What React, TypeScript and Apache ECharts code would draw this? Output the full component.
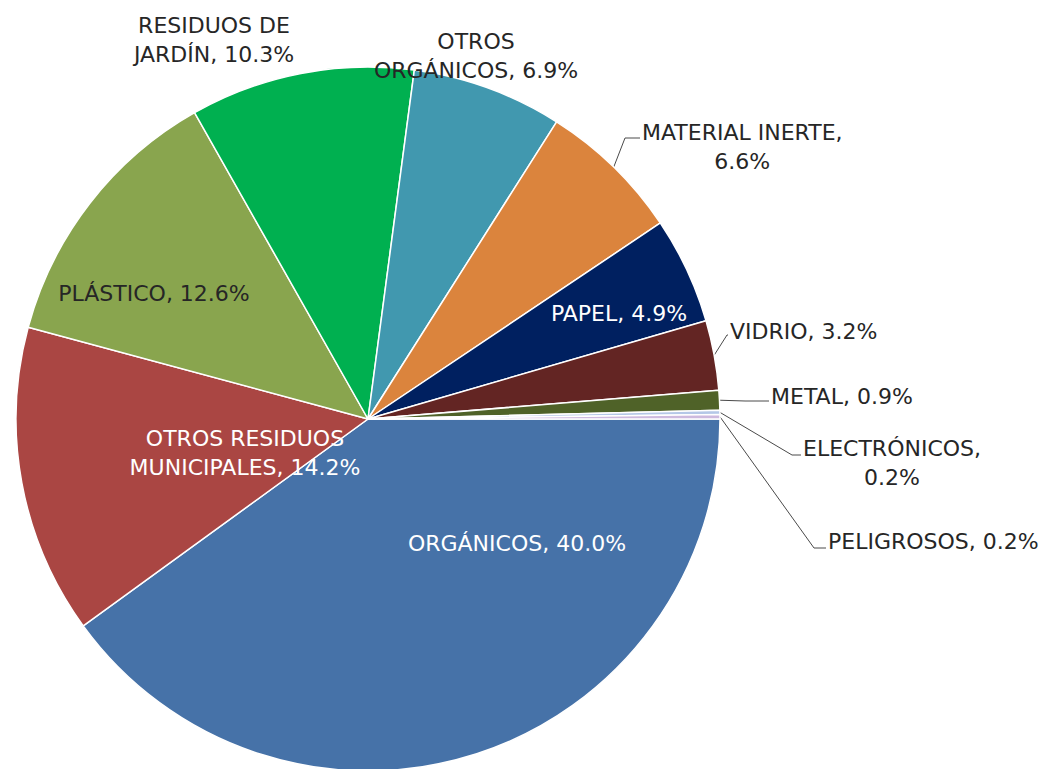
import React, { useEffect, useRef } from "react";
import * as echarts from "echarts";

// ---- data ----
const CATEGORIES = [
  "ORGÁNICOS",
  "OTROS RESIDUOS MUNICIPALES",
  "PLÁSTICO",
  "RESIDUOS DE JARDÍN",
  "OTROS ORGÁNICOS",
  "MATERIAL INERTE",
  "PAPEL",
  "VIDRIO",
  "METAL",
  "ELECTRÓNICOS",
  "PELIGROSOS",
];
const SHARES = [40.0, 14.2, 12.6, 10.3, 6.9, 6.6, 4.9, 3.2, 0.9, 0.2, 0.2];

// ---- styles ----
const COLORS = [
  "#4672A8",
  "#AA4643",
  "#89A54E",
  "#00B050",
  "#4198AF",
  "#DB843D",
  "#002060",
  "#632523",
  "#4F6228",
  "#B4C7E7",
  "#CDB9DE",
];
const WHITE_LABELS = ["ORGÁNICOS", "OTROS RESIDUOS MUNICIPALES", "PAPEL"];
// number of words before the line break in the label text
const WRAP_AFTER: Record<string, number> = {
  "RESIDUOS DE JARDÍN": 2,
  "OTROS ORGÁNICOS": 1,
  "OTROS RESIDUOS MUNICIPALES": 2,
  "MATERIAL INERTE": 2,
  "ELECTRÓNICOS": 1,
};

// ---- label layout (placement only) ----
const CENTERED_LABELS: Record<string, [number, number]> = {
  "ORGÁNICOS": [517, 543],
  "OTROS RESIDUOS MUNICIPALES": [245, 453],
  "PLÁSTICO": [154, 293],
  "PAPEL": [619, 313],
  "RESIDUOS DE JARDÍN": [214, 40],
  "OTROS ORGÁNICOS": [476, 56],
};
const LEADER_LABELS: Record<
  string,
  { left: number; midY: number; lineY: number; elbowX: number }
> = {
  "MATERIAL INERTE": { left: 642, midY: 147, lineY: 138, elbowX: 625 },
  "VIDRIO": { left: 730, midY: 331, lineY: 335, elbowX: 727 },
  "METAL": { left: 771, midY: 396, lineY: 401, elbowX: 745 },
  "ELECTRÓNICOS": { left: 803, midY: 463, lineY: 455, elbowX: 792 },
  "PELIGROSOS": { left: 828, midY: 541, lineY: 548, elbowX: 814 },
};

const FONT = "'DejaVu Sans', sans-serif";

function labelText(name: string, value: number): string {
  const full = `${name}, ${value.toFixed(1)}%`;
  const words = full.split(" ");
  const k = WRAP_AFTER[name];
  const style = WHITE_LABELS.includes(name) ? "w" : "d";
  const lines =
    k != null
      ? [words.slice(0, k).join(" "), words.slice(k).join(" ")]
      : [full];
  return lines.map((l) => `{${style}|${l}}`).join("\n");
}

export default function App() {
  const ref = useRef<HTMLDivElement>(null);

  useEffect(() => {
    if (!ref.current) return;
    const chart = echarts.init(ref.current, undefined, { renderer: "svg" });
    const richBase = {
      fontFamily: FONT,
      fontSize: 22,
      lineHeight: 29,
      align: "center" as const,
    };
    chart.setOption({
      animation: false,
      backgroundColor: "#ffffff",
      series: [
        {
          type: "pie",
          center: [368, 419],
          radius: 352,
          startAngle: 0,
          clockwise: true,
          avoidLabelOverlap: false,
          itemStyle: { borderColor: "#ffffff", borderWidth: 1.5 },
          label: {
            show: true,
            fontFamily: FONT,
            fontSize: 22,
            lineHeight: 29,
            color: "#262626",
            textBorderWidth: 0,
            formatter: (p: any) => labelText(p.name, p.value),
            rich: {
              w: { ...richBase, color: "#ffffff" },
              d: { ...richBase, color: "#262626" },
            },
          },
          labelLine: {
            show: true,
            lineStyle: { color: "#4a4a4a", width: 1 },
          },
          emphasis: { disabled: true },
          labelLayout: (params: any) => {
            const name = CATEGORIES[params.dataIndex];
            const c = CENTERED_LABELS[name];
            if (c) {
              return { x: c[0], y: c[1], align: "center", verticalAlign: "middle" };
            }
            const l = LEADER_LABELS[name];
            if (l) {
              const start =
                params.labelLinePoints && params.labelLinePoints[0];
              const res: any = {
                x: l.left,
                y: l.midY,
                align: "left",
                verticalAlign: "middle",
              };
              if (start) {
                res.labelLinePoints = [
                  start,
                  [l.elbowX, l.lineY],
                  [l.left - 2, l.lineY],
                ];
              }
              return res;
            }
            return {};
          },
          data: CATEGORIES.map((name, i) => ({
            name,
            value: SHARES[i],
            itemStyle: { color: COLORS[i] },
            label: { position: LEADER_LABELS[name] ? "outside" : "inside" },
            labelLine: { show: !!LEADER_LABELS[name] },
          })),
        },
      ],
    });
    return () => chart.dispose();
  }, []);

  return (
    <div
      ref={ref}
      style={{
        position: "absolute",
        left: 0,
        top: 0,
        width: 1046,
        height: 769,
      }}
    />
  );
}
